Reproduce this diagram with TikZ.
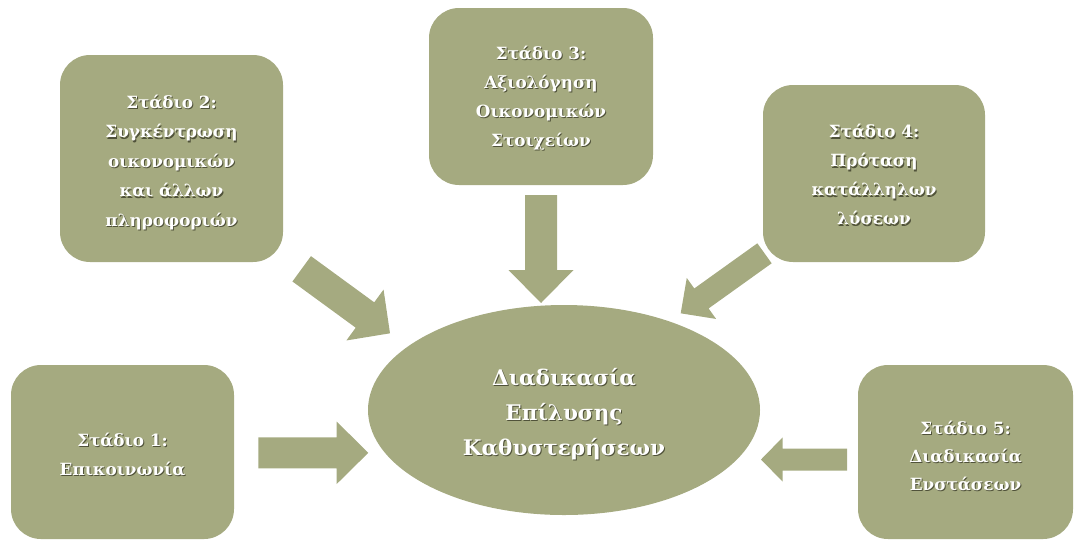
\documentclass[tikz,border=0pt]{standalone}
\usepackage{fontspec}
\setmainfont{DejaVu Serif}
\usetikzlibrary{calc,shapes.geometric}
\definecolor{olv}{RGB}{165,170,128}
\definecolor{shd}{RGB}{80,82,58}
\newcommand\shl[1]{\leavevmode\rlap{\kern1pt\raisebox{-1.2pt}{\textcolor{shd}{#1}}}#1}
% #1: extra room above the lines (moves them down by half of it)
\newcommand\txtlines[2]{\raisebox{0pt}[\dimexpr\height+#1\relax][\depth]{\begin{tabular}{@{}c@{}}#2\end{tabular}}}
\newcommand\blockarrow[5]{%
  \coordinate (hb) at ($(#2)!#5!(#1)$);
  \fill[olv] ($(#1)!#3!90:(#2)$) -- ($(hb)!#3!90:(#2)$) -- ($(hb)!#4!90:(#2)$) -- (#2)
    -- ($(hb)!#4!-90:(#2)$) -- ($(hb)!#3!-90:(#2)$) -- ($(#1)!#3!-90:(#2)$) -- cycle;}
\begin{document}
\begin{tikzpicture}[x=1pt,y=-1pt,
  stage/.style={fill=olv, rounded corners=30pt, text=white, inner sep=0pt,
    font=\bfseries\fontsize{16.8}{29}\selectfont},
  hub/.style={ellipse, fill=olv, text=white, inner sep=0pt,
    font=\bfseries\fontsize{21.5}{35}\selectfont}]
\useasboundingbox (0,0) rectangle (1075,539);
\node[stage, minimum width=223pt, minimum height=174pt] (s1) at (122.5,452)
  {\txtlines{6pt}{\shl{Στάδιο 1:}\\\shl{Επικοινωνία}}};
\node[stage, minimum width=223pt, minimum height=207pt, font=\bfseries\fontsize{16.8}{29.5}\selectfont] (s2) at (171.5,158.5)
  {\txtlines{6pt}{\shl{Στάδιο 2:}\\\shl{Συγκέντρωση}\\\shl{οικονομικών}\\\shl{και άλλων}\\\shl{πληροφοριών}}};
\node[stage, minimum width=224pt, minimum height=177pt] (s3) at (541,96.5)
  {\txtlines{1pt}{\shl{Στάδιο 3:}\\\shl{Αξιολόγηση}\\\shl{Οικονομικών}\\\shl{Στοιχείων}}};
\node[stage, minimum width=222pt, minimum height=177pt] (s4) at (874,173.5)
  {\txtlines{4pt}{\shl{Στάδιο 4:}\\\shl{Πρόταση}\\\shl{κατάλληλων}\\\shl{λύσεων}}};
\node[stage, minimum width=215pt, minimum height=174pt, font=\bfseries\fontsize{16.8}{27.8}\selectfont] (s5) at (965.5,452)
  {\txtlines{10pt}{\shl{Στάδιο 5:}\\\shl{Διαδικασία}\\\shl{Ενστάσεων}}};
\node[hub, minimum width=392pt, minimum height=210pt] (c) at (564,410)
  {\txtlines{6pt}{\shl{Διαδικασία}\\\shl{Επίλυσης}\\\shl{Καθυστερήσεων}}};
\coordinate (t1) at (258.3,452.8); \coordinate (p1) at (368.3,452.8);
\coordinate (t2) at (301.7,268.8); \coordinate (p2) at (390,333.3);
\coordinate (t3) at (541,195);     \coordinate (p3) at (541,303);
\coordinate (t4) at (764.5,253.3); \coordinate (p4) at (680.7,313.3);
\coordinate (t5) at (847,459.5);   \coordinate (p5) at (761,459.5);
\blockarrow{t1}{p1}{15.5pt}{31.2pt}{31.6pt}
\blockarrow{t2}{p2}{15.7pt}{31.5pt}{31pt}
\blockarrow{t3}{p3}{16pt}{32.5pt}{33pt}
\blockarrow{t4}{p4}{12.3pt}{25.2pt}{25.5pt}
\blockarrow{t5}{p5}{11pt}{22.2pt}{21.7pt}
\end{tikzpicture}
\end{document}
